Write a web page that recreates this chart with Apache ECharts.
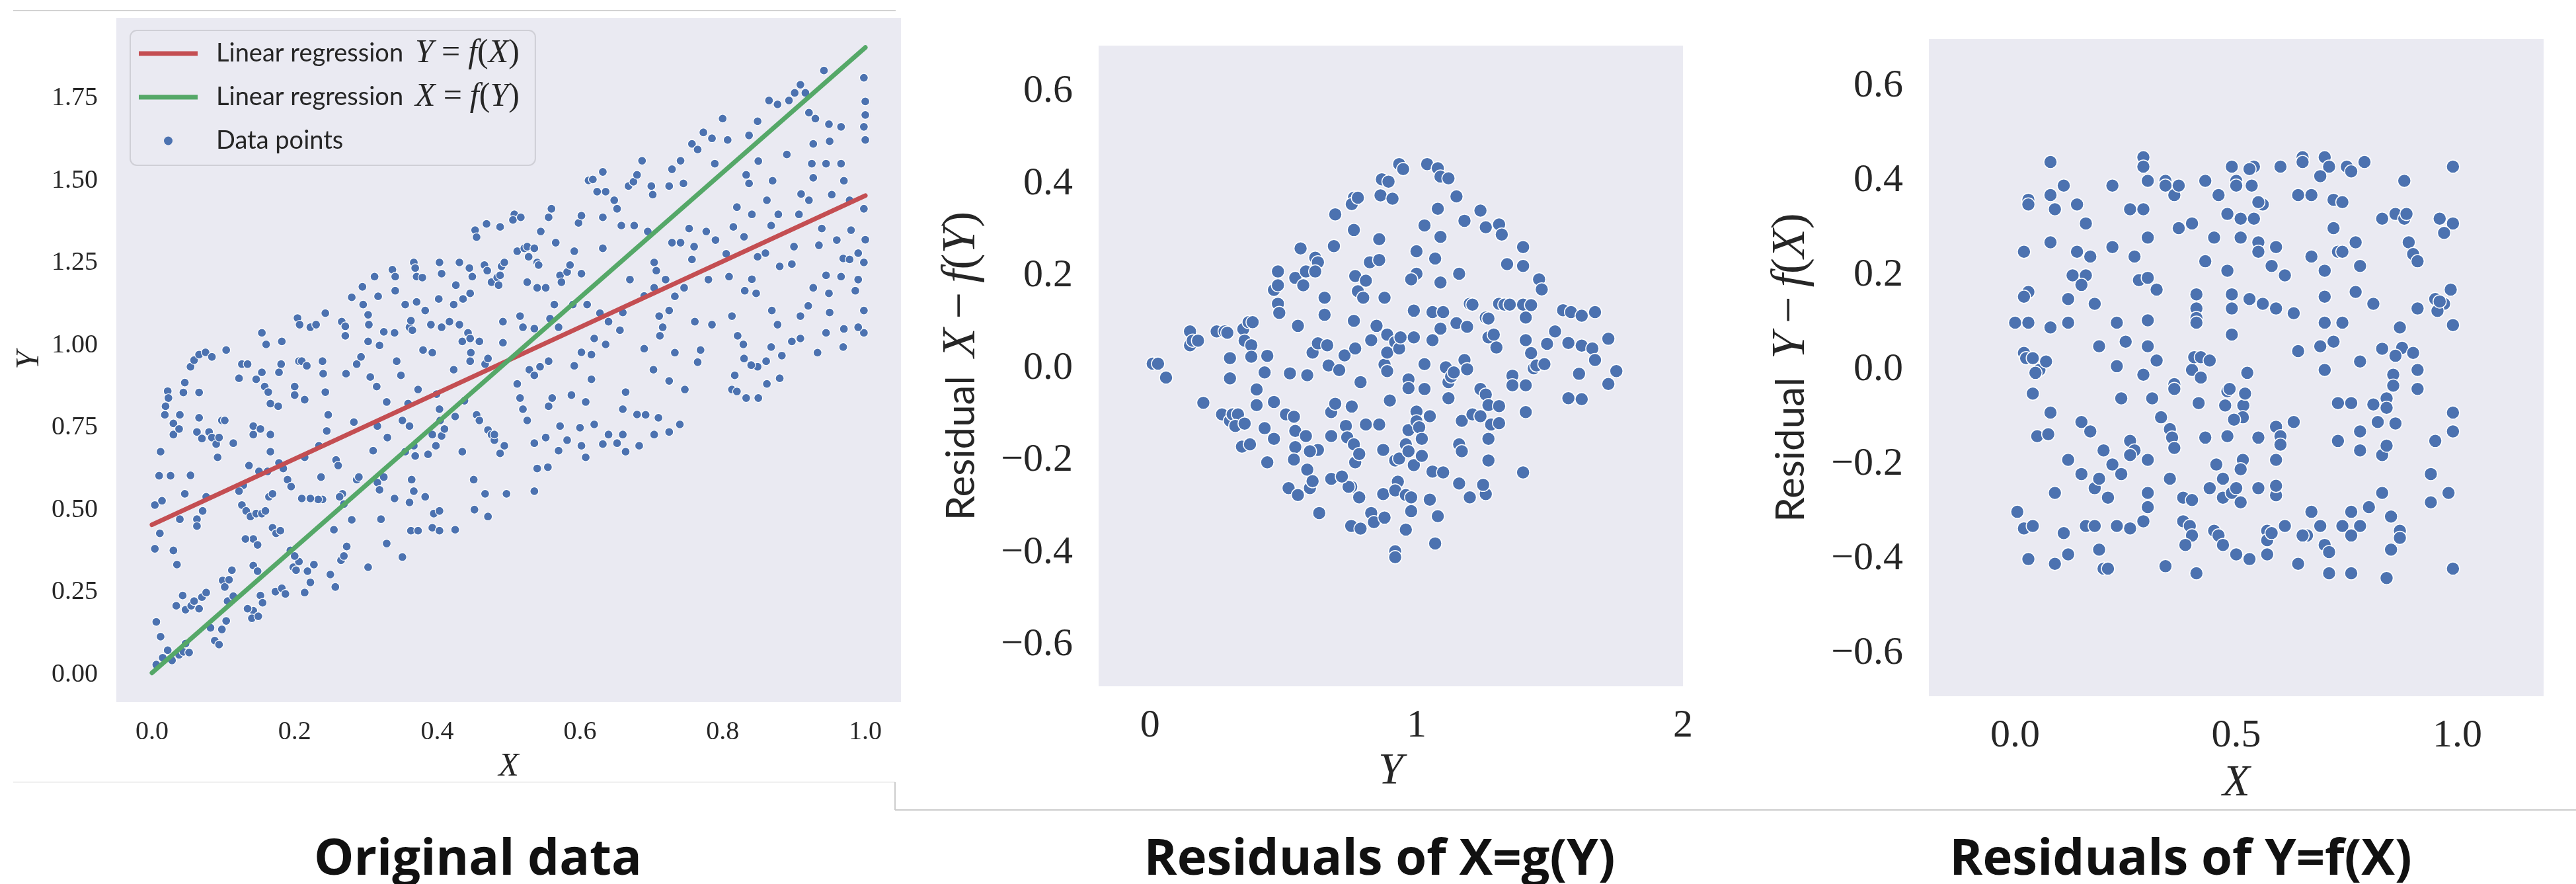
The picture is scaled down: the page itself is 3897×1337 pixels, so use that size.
<!DOCTYPE html>
<html>
<head>
<meta charset="utf-8">
<title>Regression residuals</title>
<script src="https://cdn.jsdelivr.net/npm/echarts@6/dist/echarts.min.js"></script>
<style>
  html, body { margin: 0; padding: 0; background: #fff; }
  #chart { width: 3897px; height: 1337px; }
</style>
</head>
<body>
<div id="chart"></div>
<script>
// ---- data ----
// left panel: X, Y
const points = [
  [.004,.515],[.014,.528],[.022,.861],[.023,.84],[.019,.815],[.018,.789],[.012,.677],[.01,.604],[.026,.604],[.03,.763],[.03,.729],[.039,.789],[.038,.746],
  [.004,.382],[.011,.429],[.03,.377],[.035,.334],[.006,.16],[.012,.115],[.006,.03],[.015,.051],[.022,.074],[.028,.043],[.038,.06],[.044,.069],[.052,.067],
  [.034,.209],[.043,.24],[.047,.197],[.055,.209],[.059,.223],[.066,.2],[.07,.235],[.076,.249],[.047,.094],
  [.046,.887],[.044,.857],[.054,.935],[.059,.955],[.066,.972],[.075,.979],[.084,.965],[.104,.986],[.066,.857],[.066,.78],[.063,.737],[.07,.717],[.08,.737],
  [.084,.72],[.09,.70],[.094,.72],[.098,.772],[.102,.772],[.054,.605],[.063,.472],[.071,.497],[.076,.54],[.063,.451],[.039,.472],[.046,.549],[.092,.66],
  [.082,.142],[.088,.103],[.094,.091],[.098,.137],[.104,.163],[.099,.286],[.102,.266],[.108,.288],[.112,.317],[.106,.223],[.114,.238],
  [.114,.703],[.122,.90],[.126,.943],[.134,.943],[.142,.729],[.142,.755],[.146,.897],[.154,.918],[.158,.875],[.163,.858],[.166,.823],[.177,.815],[.178,.918],
  [.181,.943],[.154,1.038],[.16,1.003],[.182,1.012],[.178,.643],[.184,.626],[.19,.592],[.195,.571],[.166,.729],[.166,.677],[.162,.617],[.15,.617],[.136,.635],
  [.128,.575],[.122,.557],[.126,.515],[.132,.497],[.138,.48],[.146,.489],[.154,.489],[.159,.497],[.164,.54],[.169,.549],[.169,.446],[.174,.429],[.18,.437],
  [.142,.412],[.148,.394],[.131,.412],[.142,.331],[.148,.314],[.152,.24],[.155,.218],[.142,.194],[.14,.171],[.149,.177],[.134,.2],[.173,.252],[.182,.262],
  [.187,.245],[.194,.377],[.198,.326],[.152,.746],[.204,1.083],[.207,1.063],[.206,.952],[.21,.952],[.2,.875],[.2,.849],[.214,.835],[.217,.938],
  [.222,1.055],[.23,1.063],[.243,1.098],[.239,.952],[.24,.914],[.243,.858],[.247,.789],[.234,.695],[.237,.6],[.239,.532],[.233,.532],[.222,.535],[.214,.66],
  [.21,.535],[.202,.317],[.214,.249],[.222,.28],[.227,.334],[.218,.314],[.206,.343],[.2,.36],[.25,.304],[.257,.266],[.265,.347],[.269,.36],[.273,.389],
  [.269,.518],[.267,.549],[.263,.54],[.258,.652],[.261,.635],[.266,1.072],[.271,1.058],[.271,1.029],[.272,.914],[.28,1.146],[.283,.767],[.287,.592],[.29,.6],
  [.295,1.178],[.296,1.124],[.287,.943],[.293,.965],[.303,1.093],[.304,1.063],[.303,1.012],[.303,.326],[.306,.904],[.312,1.209],[.317,1.149],[.319,1.0],
  [.315,.875],[.316,.755],[.316,.583],[.319,.561],[.321,.472],[.325,1.041],[.329,.828],[.329,.398],[.337,1.23],[.341,1.209],[.341,1.166],[.34,1.038],
  [.343,.952],[.349,.909],[.351,.772],[.355,.677],[.351,.357],[.34,.535],[.245,.74],[.255,.44],[.28,.47],[.31,.68],[.33,.72],[.325,.6],
  [.355,1.124],[.361,1.055],[.363,1.075],[.365,1.046],[.367,1.252],[.369,1.235],[.371,1.209],[.371,1.132],[.379,1.206],[.38,.986],[.373,.866],[.359,.823],
  [.361,.755],[.367,.695],[.369,.664],[.364,.592],[.367,.557],[.361,.523],[.363,.437],[.373,.437],[.383,.54],[.387,.669],[.393,.729],[.398,.695],[.395,.489],
  [.393,.446],[.403,.437],[.403,.497],[.399,.852],[.403,.806],[.404,.772],[.406,.725],[.41,.746],[.383,1.106],[.391,1.063],[.393,.978],[.403,1.252],
  [.406,1.218],[.402,1.141],[.406,1.055],[.417,1.072],[.423,1.124],[.426,1.183],[.431,1.252],[.436,1.141],[.431,1.063],[.435,1.012],[.423,.926],[.425,.784],
  [.425,.44],[.435,.677],[.438,.832],[.453,1.35],[.455,1.329],[.469,1.369],[.488,1.36],[.508,1.398],[.506,1.381],[.517,1.389],
  [.445,1.235],[.449,1.209],[.446,1.158],[.443,1.038],[.446,1.021],[.446,.952],[.447,.978],[.459,1.012],[.466,1.244],[.47,1.227],[.476,1.192],[.484,1.206],
  [.486,1.183],[.488,1.213],[.49,1.24],[.494,1.252],[.492,1.072],[.492,1.008],[.467,.943],[.471,.96],[.455,.789],[.459,.772],[.471,.743],[.476,.729],
  [.48,.712],[.451,.592],[.452,.501],[.467,.549],[.471,.48],[.48,.729],[.488,.672],[.494,.695],[.497,.549],
  [.512,1.286],[.522,1.295],[.526,1.3],[.528,1.269],[.536,1.295],[.54,1.252],[.542,1.244],[.526,1.192],[.54,1.175],[.552,1.175],[.556,1.389],[.56,1.415],
  [.545,1.346],[.558,1.081],[.564,1.124],[.572,1.213],[.582,1.223],[.586,1.244],[.574,1.192],[.566,1.312],[.598,1.372],[.602,1.394],[.612,1.501],[.624,1.467],
  [.632,1.389],[.618,1.504],[.632,1.527],[.636,1.467],[.648,1.441],[.652,1.415],[.658,1.364],[.592,1.286],[.602,1.218],[.61,1.124],[.632,1.295],[.628,1.098],
  [.516,1.089],[.52,1.055],[.536,1.051],[.529,.926],[.536,.909],[.544,.935],[.556,.952],[.57,1.055],[.59,1.124],[.602,.979],[.616,.972],[.636,1.003],
  [.64,1.072],[.62,1.021],[.592,.938],[.616,.897],[.512,.883],[.516,.84],[.52,.806],[.526,.772],[.536,.703],[.552,.72],[.561,.84],[.556,.815],[.582,.712],
  [.572,.755],[.608,.828],[.602,.695],[.608,.66],[.632,.7],[.64,.729],[.54,.626],[.536,.557],[.588,.849],[.652,.703],[.57,.68],[.62,.76],[.6,.75],[.555,.63],
  [.668,1.484],[.675,1.497],[.68,1.518],[.687,1.561],[.7,1.484],[.702,1.458],[.725,1.484],[.729,1.535],[.741,1.561],[.745,1.492],[.757,1.612],[.765,1.595],
  [.773,1.647],[.785,1.629],[.789,1.552],[.676,1.364],[.695,1.346],[.704,1.252],[.707,1.227],[.704,1.175],[.711,1.089],[.716,1.055],[.712,1.029],[.725,1.106],
  [.733,1.149],[.746,1.175],[.729,1.312],[.741,1.312],[.753,1.355],[.777,1.346],[.757,1.261],[.761,1.072],[.785,1.063],[.769,.986],[.733,.978],
  [.656,1.046],[.66,.806],[.664,.858],[.692,.789],[.704,.729],[.725,.737],[.664,.677],[.683,.695],[.66,.729],[.703,.926],[.725,.892],[.747,.866],[.765,.949],
  [.67,1.2],[.69,1.15],[.72,1.2],[.68,.79],[.71,.78],[.74,.76],[.76,1.3],[.79,1.32],[.78,1.2],[.66,1.1],[.69,.99],
  [.8,1.689],[.807,1.624],[.833,1.518],[.837,1.638],[.849,1.681],[.865,1.744],[.877,1.732],[.893,1.744],[.901,1.767],[.909,1.792],[.916,1.767],[.921,1.707],
  [.93,1.689],[.942,1.835],[.949,1.672],[.966,1.664],[.998,1.813],[1.0,1.741],[.998,1.664],[1.0,1.624],[1.0,1.70],
  [.837,1.492],[.841,1.398],[.862,1.441],[.868,1.364],[.878,1.398],[.907,1.398],[.921,1.441],[.925,1.552],[.927,1.612],[.945,1.552],[.966,1.552],[.953,1.458],
  [.978,1.441],[.998,1.415],[.927,1.509],[.935,1.304],[.939,1.355],
  [.805,1.278],[.809,1.209],[.813,1.089],[.821,1.029],[.831,1.166],[.841,1.201],[.849,1.269],[.847,1.158],[.869,1.106],[.877,1.063],[.897,1.247],[.909,1.089],
  [.909,1.021],[.927,1.175],[.945,1.213],[.949,1.158],[.966,1.209],[.969,1.264],[.978,1.261],[.986,1.166],[.998,1.252],[1.0,1.321],[.998,1.106],[.998,1.038],
  [.99,1.055],[.969,.995],[.945,1.038],[.933,.978],[.897,1.012],[.883,.969],[.868,.995],[.861,.952],[.849,.935],[.829,1.003],
  [.813,.866],[.817,.909],[.833,.84],[.862,.883],[.82,.86],[.85,.84],[.88,.90],[.84,.94],[.83,.96],
  [.815,1.36],[.83,1.33],[.86,1.28],[.88,1.24],[.9,1.3],[.92,1.12],[.95,1.1],[.97,1.05],[.96,1.32],[.98,1.35],[.99,1.2],[.82,1.42],[.85,1.56],[.87,1.5],
  [.89,1.58],[.95,1.62],[.97,1.5],[.91,1.46],[.99,1.28]
];
// fitted lines, end points
const lineYonX = [[0, 0.455], [1, 1.455]];
const lineXonY = [[0, 0.005], [1, 1.905]];

// middle panel: Y, residual X - f(Y)
const residX = [
  [0.01,0.01],[0.03,0.01],[0.06,-0.02],[0.15,0.08],[0.15,0.05],[0.16,0.06],[0.18,0.06],[0.20,-0.075],[0.25,0.08],[0.28,0.08],[0.29,0.077],[0.27,-0.10],
  [0.30,-0.114],[0.31,-0.10],[0.33,-0.10],[0.32,-0.125],[0.355,-0.12],[0.30,0.022],[0.30,-0.022],[0.35,0.085],[0.355,0.06],[0.37,0.10],[0.385,0.10],
  [0.38,0.05],[0.38,0.025],[0.345,-0.17],[0.375,-0.165],[0.40,-0.046],[0.40,-0.08],[0.43,-0.13],[0.44,0.027],[0.43,-0.009],[0.465,-0.073],[0.465,-0.153],
  [0.44,-0.204],[0.465,0.17],[0.48,0.18],[0.48,0.21],[0.48,0.14],[0.485,0.12],[0.51,-0.10],[0.525,-0.011],[0.54,-0.105],[0.545,-0.136],[0.545,-0.171],
  [0.54,-0.198],[0.52,-0.26],[0.555,-0.275],[0.555,0.092],[0.545,0.196],[0.565,0.26],[0.575,0.18],[0.585,0.21],[0.59,-0.015],[0.585,-0.147],[0.59,-0.22],
  [0.60,-0.26],[0.61,-0.245],[0.62,0.24],[0.63,0.23],[0.62,0.21],[0.61,0.034],[0.63,0.054],[0.63,-0.177],[0.655,0.153],[0.655,0.116],[0.67,0.006],
  [0.665,0.05],[0.68,-0.095],[0.695,-0.077],[0.68,-0.147],[0.68,-0.24],[0.69,0.265],[0.695,0.334],[0.635,-0.314],[0.71,-0.004],[0.73,0.028],[0.735,-0.125],
  [0.74,-0.15],[0.755,-0.257],[0.745,-0.257],[0.755,-0.342],[0.79,-0.348],[0.757,-0.083],[0.765,0.30],[0.765,0.37],[0.757,0.356],[0.78,0.37],[0.765,0.103],
  [0.77,0.20],[0.78,0.167],[0.77,0.043],[0.765,-0.165],[0.77,-0.204],[0.785,-0.186],[0.785,-0.28],[0.79,-0.03],[0.80,0.153],[0.81,0.19],[0.81,-0.122],
  [0.825,0.23],[0.85,0.092],[0.86,0.235],[0.86,-0.122],[0.83,0.061],[0.83,-0.314],[0.84,-0.334],[0.865,0.375],[0.86,0.28],[0.87,0.41],[0.88,0.153],
  [0.88,0.008],[0.875,-0.177],[0.875,-0.273],[0.88,-0.324],[0.89,0.073],[0.89,0.034],[0.89,-0.006],[0.895,0.405],[0.91,0.368],[0.90,-0.07],[0.92,0.057],
  [0.935,0.443],[0.95,0.432],[0.92,-0.20],[0.935,-0.196],[0.93,-0.246],[0.92,-0.265],[0.92,-0.397],[0.92,-0.41],[0.935,0.043],[0.94,0.067],[0.97,-0.024],
  [0.97,-0.043],[0.97,-0.134],[0.96,-0.165],[0.97,-0.18],[0.96,-0.35],[0.96,-0.275],[0.98,-0.28],[0.98,-0.31],[0.99,-0.21],[0.99,0.067],[0.99,0.125],
  [1.0,0.205],[1.0,0.254],[0.98,0.193],[1.03,0.31],[1.04,0.443],[1.03,0.009],[1.03,-0.045],[1.0,-0.094],[1.0,-0.115],[1.01,-0.128],[1.02,-0.153],
  [1.02,-0.19],[1.05,-0.104],[1.05,-0.285],[1.06,0.122],[1.06,0.061],[1.07,0.238],[1.08,0.346],[1.08,0.434],[1.09,0.416],[1.07,-0.38],[1.08,-0.321],
  [1.06,-0.224],[1.09,0.285],[1.09,0.186],[1.09,0.086],[1.10,0.122],[1.10,-0.226],[1.11,0.002],[1.12,-0.03],[1.12,-0.065],[1.13,-0.018],[1.14,-0.009],
  [1.15,0.098],[1.12,0.412],[1.15,0.373],[1.16,0.205],[1.16,-0.25],[1.17,-0.114],[1.16,-0.165],[1.17,-0.18],[1.18,0.018],[1.19,-0.002],[1.18,0.32],
  [1.19,0.09],[1.20,0.14],[1.21,0.138],[1.21,-0.10],[1.20,-0.28],[1.24,-0.045],[1.24,0.342],[1.24,-0.104],[1.26,0.11],[1.26,-0.273],[1.26,0.306],
  [1.26,-0.057],[1.27,-0.153],[1.27,-0.08],[1.27,-0.20],[1.28,-0.122],[1.27,0.108],[1.27,0.067],[1.25,-0.253],[1.29,0.073],[1.30,0.045],[1.31,0.312],
  [1.32,0.29],[1.31,-0.082],[1.31,-0.119],[1.31,0.14],[1.33,0.138],[1.34,0.226],[1.35,0.138],[1.36,-0.016],[1.36,-0.037],[1.40,-0.226],[1.40,0.263],
  [1.40,0.222],[1.40,0.138],[1.41,0.11],[1.41,0.061],[1.41,-0.037],[1.41,-0.095],[1.43,0.137],[1.43,0.033],[1.44,0.0],[1.46,0.193],[1.47,0.171],
  [1.45,0.006],[1.48,0.009],[1.49,0.053],[1.52,0.08],[1.55,0.126],[1.57,0.055],[1.58,0.122],[1.57,-0.065],[1.62,-0.067],[1.61,-0.012],[1.62,0.049],
  [1.62,0.114],[1.66,0.043],[1.67,0.018],[1.67,0.122],[1.72,0.064],[1.72,-0.034],[1.75,-0.006],[0.60,-0.18],[0.72,-0.235]
];

// right panel: X, residual Y - f(X)
const residY = [
  [0.08,0.44],[0.29,0.45],[0.29,0.43],[0.49,0.43],[0.50,0.40],[0.54,0.43],[0.53,0.425],[0.60,0.43],[0.65,0.45],[0.65,0.44],[0.70,0.45],[0.71,0.43],
  [0.75,0.43],[0.76,0.42],[0.79,0.44],[0.99,0.43],[0.69,0.41],[0.43,0.40],[0.34,0.40],[0.30,0.40],[0.11,0.39],[0.08,0.37],[0.09,0.34],[0.03,0.36],
  [0.03,0.35],[0.14,0.35],[0.22,0.39],[0.26,0.34],[0.29,0.34],[0.34,0.39],[0.36,0.37],[0.37,0.39],[0.46,0.37],[0.50,0.39],[0.535,0.39],[0.56,0.35],
  [0.55,0.355],[0.64,0.37],[0.67,0.37],[0.72,0.36],[0.74,0.355],[0.88,0.40],[0.48,0.33],[0.51,0.32],[0.54,0.32],[0.40,0.31],[0.37,0.30],[0.72,0.30],
  [0.83,0.32],[0.86,0.33],[0.88,0.32],[0.885,0.33],[0.96,0.32],[0.99,0.31],[0.16,0.31],[0.97,0.29],[0.08,0.27],[0.02,0.25],[0.14,0.25],[0.17,0.24],
  [0.22,0.26],[0.27,0.24],[0.30,0.28],[0.45,0.28],[0.51,0.28],[0.55,0.27],[0.55,0.25],[0.59,0.26],[0.58,0.22],[0.61,0.20],[0.67,0.24],[0.73,0.25],
  [0.74,0.25],[0.77,0.27],[0.78,0.22],[0.70,0.21],[0.89,0.27],[0.90,0.245],[0.91,0.23],[0.13,0.20],[0.16,0.20],[0.15,0.18],[0.28,0.19],[0.30,0.195],
  [0.32,0.17],[0.43,0.23],[0.48,0.21],[0.03,0.165],[0.02,0.155],[0.12,0.15],[0.18,0.14],[0.41,0.16],[0.49,0.16],[0.49,0.13],[0.53,0.15],[0.56,0.14],
  [0.59,0.13],[0.63,0.12],[0.70,0.155],[0.77,0.165],[0.81,0.14],[0.91,0.13],[0.95,0.15],[0.97,0.14],[0.985,0.17],[0.955,0.125],[0.00,0.10],[0.03,0.10],
  [0.08,0.09],[0.12,0.10],[0.23,0.10],[0.30,0.105],[0.41,0.13],[0.41,0.11],[0.41,0.10],[0.70,0.10],[0.74,0.10],[0.87,0.09],[0.99,0.095],[0.96,0.145],
  [0.19,0.05],[0.25,0.06],[0.30,0.05],[0.32,0.02],[0.49,0.075],[0.64,0.04],[0.69,0.05],[0.72,0.06],[0.70,0.00],[0.83,0.045],[0.875,0.047],[0.90,0.036],
  [0.86,0.03],[0.78,0.018],[0.02,0.036],[0.025,0.025],[0.04,0.025],[0.055,0.0],[0.07,0.018],[0.23,0.008],[0.29,-0.01],[0.40,0.00],[0.405,0.027],
  [0.42,0.027],[0.44,0.02],[0.42,-0.016],[0.525,-0.006],[0.91,0.0],[0.04,-0.05],[0.046,-0.006],[0.24,-0.06],[0.31,-0.06],[0.36,-0.03],[0.36,-0.04],
  [0.415,-0.07],[0.48,-0.045],[0.485,-0.04],[0.475,-0.075],[0.516,-0.075],[0.52,-0.05],[0.515,-0.10],[0.495,-0.105],[0.73,-0.07],[0.76,-0.07],
  [0.81,-0.073],[0.84,-0.06],[0.855,-0.01],[0.855,-0.033],[0.84,-0.08],[0.82,-0.11],[0.86,-0.113],[0.91,-0.04],[0.99,-0.09],[0.08,-0.09],[0.33,-0.10],
  [0.63,-0.11],[0.59,-0.12],[0.05,-0.14],[0.075,-0.136],[0.15,-0.11],[0.17,-0.13],[0.20,-0.17],[0.26,-0.15],[0.27,-0.17],[0.26,-0.18],[0.35,-0.125],
  [0.355,-0.143],[0.36,-0.165],[0.43,-0.143],[0.48,-0.14],[0.55,-0.143],[0.60,-0.14],[0.60,-0.158],[0.73,-0.15],[0.78,-0.13],[0.78,-0.17],[0.83,-0.18],
  [0.84,-0.16],[0.95,-0.15],[0.99,-0.13],[0.12,-0.19],[0.22,-0.20],[0.24,-0.22],[0.30,-0.19],[0.515,-0.19],[0.51,-0.21],[0.59,-0.19],[0.455,-0.20],
  [0.15,-0.22],[0.18,-0.25],[0.19,-0.23],[0.21,-0.27],[0.09,-0.26],[0.30,-0.26],[0.30,-0.29],[0.35,-0.23],[0.38,-0.27],[0.40,-0.275],[0.44,-0.25],
  [0.47,-0.27],[0.47,-0.23],[0.49,-0.26],[0.50,-0.25],[0.51,-0.28],[0.55,-0.25],[0.59,-0.265],[0.59,-0.245],[0.83,-0.26],[0.94,-0.28],[0.94,-0.22],
  [0.98,-0.26],[0.005,-0.30],[0.02,-0.335],[0.04,-0.33],[0.11,-0.345],[0.16,-0.33],[0.18,-0.33],[0.23,-0.33],[0.26,-0.335],[0.29,-0.32],[0.38,-0.32],
  [0.395,-0.33],[0.40,-0.35],[0.45,-0.34],[0.46,-0.35],[0.57,-0.34],[0.61,-0.33],[0.67,-0.30],[0.69,-0.33],[0.66,-0.35],[0.74,-0.33],[0.76,-0.30],
  [0.78,-0.33],[0.80,-0.29],[0.85,-0.31],[0.87,-0.34],[0.87,-0.355],[0.03,-0.40],[0.09,-0.41],[0.12,-0.39],[0.19,-0.38],[0.20,-0.42],[0.21,-0.42],
  [0.34,-0.415],[0.385,-0.37],[0.41,-0.43],[0.47,-0.37],[0.50,-0.39],[0.53,-0.40],[0.57,-0.39],[0.57,-0.36],[0.64,-0.41],[0.70,-0.37],[0.71,-0.385],
  [0.71,-0.43],[0.76,-0.43],[0.76,-0.35],[0.84,-0.44],[0.85,-0.38],[0.99,-0.42],[0.65,-0.35],[0.58,-0.345]
];

// tick labels
const ticksX1 = [0, 0.2, 0.4, 0.6, 0.8, 1.0];
const ticksY1 = [0, 0.25, 0.5, 0.75, 1.0, 1.25, 1.5, 1.75];
const ticksX2 = [0, 1, 2];
const ticksX3 = [0, 0.5, 1.0];
const ticksRes = [-0.6, -0.4, -0.2, 0, 0.2, 0.4, 0.6];

const BLUE = '#4C72B0', RED = '#C44E52', GREEN = '#55A868', BG = '#EAEAF2';
const SERIF = '"Liberation Serif", "DejaVu Serif", serif';
const SANS = 'Lato, "Open Sans", sans-serif';
const INK = '#262626';

function minus(v, d) {
  return (v < 0 ? '\u2212' : '') + Math.abs(v).toFixed(d);
}

function valueAxis(gridIndex, min, max, ticks, fmt, size, margin, name, gap, extra) {
  return Object.assign({
    type: 'value', gridIndex: gridIndex, min: min, max: max,
    axisLine: { show: false }, axisTick: { show: false }, splitLine: { show: false },
    axisLabel: { customValues: ticks, formatter: fmt, fontFamily: SERIF, fontSize: size, color: INK, margin: margin },
    name: name, nameLocation: 'middle', nameGap: gap
  }, extra || {});
}

// rotated axis title: sans word followed by a serif-italic formula
function resName() {
  return {
    color: INK, fontSize: 60, lineHeight: 70,
    rich: {
      s: { fontFamily: SANS, fontSize: 60, lineHeight: 70, color: INK },
      m1: { fontFamily: SERIF, fontStyle: 'italic', fontSize: 72, lineHeight: 70, color: INK, padding: [0, 0, 0, 28] },
      m: { fontFamily: SERIF, fontStyle: 'italic', fontSize: 72, lineHeight: 70, color: INK },
      op: { fontFamily: SERIF, fontSize: 72, lineHeight: 70, color: INK, padding: [0, 14, 0, 14] },
      o: { fontFamily: SERIF, fontSize: 72, lineHeight: 70, color: INK }
    }
  };
}

function italicName(size) {
  return { fontFamily: SERIF, fontStyle: 'italic', fontSize: size, lineHeight: size, color: INK };
}

const chart = echarts.init(document.getElementById('chart'));
const option = {
  animation: false,
  backgroundColor: '#fff',
  title: [
    { text: 'Original data', left: 718, top: 1258, textAlign: 'center' },
    { text: 'Residuals of X=g(Y)', left: 2082, top: 1258, textAlign: 'center' },
    { text: 'Residuals of Y=f(X)', left: 3294, top: 1258, textAlign: 'center' }
  ].map(t => Object.assign(t, { textStyle: { fontFamily: '"Open Sans", sans-serif', fontWeight: 'bold', fontSize: 76, color: '#111' } })),
  grid: [
    { left: 176, top: 27, width: 1187, height: 1035, show: true, backgroundColor: BG, borderWidth: 0 },
    { left: 1662, top: 69, width: 884, height: 969, show: true, backgroundColor: BG, borderWidth: 0 },
    { left: 2918, top: 59, width: 930, height: 994, show: true, backgroundColor: BG, borderWidth: 0 }
  ],
  xAxis: [
    valueAxis(0, -0.05, 1.05, ticksX1, v => v.toFixed(1), 40, 25, 'X', 73, { nameTextStyle: italicName(50) }),
    valueAxis(1, -0.193, 2.0, ticksX2, v => String(v), 60, 30, 'Y', 94, { nameTextStyle: italicName(68) }),
    valueAxis(2, -0.195, 1.195, ticksX3, v => v.toFixed(1), 60, 30, 'X', 98, { nameTextStyle: italicName(68) })
  ],
  yAxis: [
    valueAxis(0, -0.084, 1.995, ticksY1, v => v.toFixed(2), 40, 28, 'Y', 106,
      { nameRotate: 90, nameTextStyle: italicName(50) }),
    valueAxis(1, -0.69, 0.70, ticksRes, v => minus(v, 1), 60, 39,
      '{s|Residual}{m1|X}{op|\u2212}{m|f}{o|(}{m|Y}{o|)}', 172, { nameRotate: 90, nameTextStyle: resName() }),
    valueAxis(2, -0.69, 0.70, ticksRes, v => minus(v, 1), 60, 39,
      '{s|Residual}{m1|Y}{op|\u2212}{m|f}{o|(}{m|X}{o|)}', 173, { nameRotate: 90, nameTextStyle: resName() })
  ],
  legend: {
    orient: 'vertical', left: 197, top: 46,
    padding: [10, 24, 12, 13], itemGap: 16,
    itemWidth: 89, itemHeight: 13,
    backgroundColor: BG, borderColor: '#cfcfd6', borderWidth: 2, borderRadius: 10,
    selectedMode: false,
    data: [
      { name: 'Linear regression Y = f(X)', icon: 'path://M0,0M89,13M0,3L89,3L89,10L0,10Z' },
      { name: 'Linear regression X = f(Y)', icon: 'path://M0,0M89,13M0,3L89,3L89,10L0,10Z' },
      { name: 'Data points', icon: 'circle', itemStyle: { borderWidth: 0 } }
    ],
    formatter: function (name) {
      if (name === 'Data points') return '{t|Data points}';
      const m = name.match(/(\w) = f\((\w)\)/);
      return '{t|Linear regression}{m1|' + m[1] + '}{op|=}{m|f}{o|(}{m|' + m[2] + '}{o|)}';
    },
    textStyle: {
      color: INK, fontSize: 38, lineHeight: 50,
      rich: {
        t: { fontFamily: SANS, fontSize: 38, lineHeight: 50, color: INK, padding: [0, 0, 0, 23] },
        m1: { fontFamily: SERIF, fontStyle: 'italic', fontSize: 50, lineHeight: 50, color: INK, padding: [0, 0, 0, 18] },
        m: { fontFamily: SERIF, fontStyle: 'italic', fontSize: 50, lineHeight: 50, color: INK },
        op: { fontFamily: SERIF, fontSize: 50, lineHeight: 50, color: INK, padding: [0, 12, 0, 12] },
        o: { fontFamily: SERIF, fontSize: 50, lineHeight: 50, color: INK }
      }
    }
  },
  series: [
    { name: 'Data points', type: 'scatter', xAxisIndex: 0, yAxisIndex: 0, data: points, symbolSize: 13,
      itemStyle: { color: BLUE, borderColor: '#fff', borderWidth: 1.2, opacity: 1 }, z: 2 },
    { name: 'Linear regression Y = f(X)', type: 'line', xAxisIndex: 0, yAxisIndex: 0, data: lineYonX, symbol: 'none',
      lineStyle: { color: RED, width: 7, cap: 'round' }, itemStyle: { color: RED }, z: 3 },
    { name: 'Linear regression X = f(Y)', type: 'line', xAxisIndex: 0, yAxisIndex: 0, data: lineXonY, symbol: 'none',
      lineStyle: { color: GREEN, width: 7, cap: 'round' }, itemStyle: { color: GREEN }, z: 3 },
    { name: 'residuals X', type: 'scatter', xAxisIndex: 1, yAxisIndex: 1, data: residX, symbolSize: 20,
      itemStyle: { color: BLUE, borderColor: '#fff', borderWidth: 1.5, opacity: 1 } },
    { name: 'residuals Y', type: 'scatter', xAxisIndex: 2, yAxisIndex: 2, data: residY, symbolSize: 20,
      itemStyle: { color: BLUE, borderColor: '#fff', borderWidth: 1.5, opacity: 1 } }
  ],
  graphic: [
    { type: 'line', shape: { x1: 20, y1: 16, x2: 1355, y2: 16 }, style: { stroke: '#d2d2d2', lineWidth: 2 } },
    { type: 'line', shape: { x1: 20, y1: 1183, x2: 1354, y2: 1183 }, style: { stroke: '#f0f0f0', lineWidth: 2 } },
    { type: 'line', shape: { x1: 1354, y1: 1183, x2: 1354, y2: 1225 }, style: { stroke: '#cccccc', lineWidth: 2 } },
    { type: 'line', shape: { x1: 1354, y1: 1225, x2: 3897, y2: 1225 }, style: { stroke: '#cccccc', lineWidth: 2 } }
  ]
};

chart.setOption(option);
</script>
</body>
</html>
